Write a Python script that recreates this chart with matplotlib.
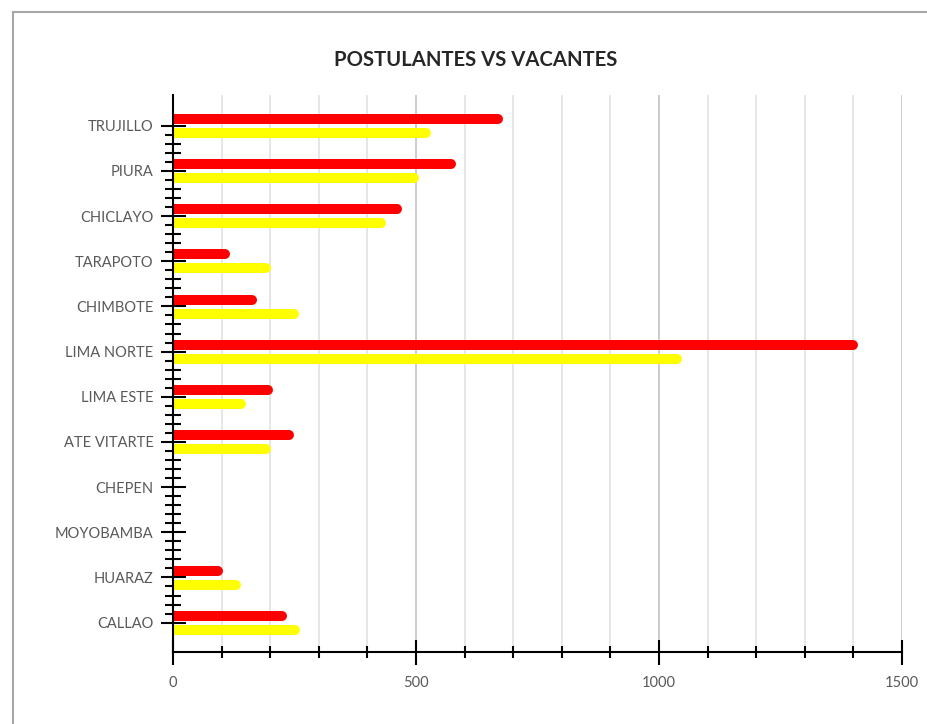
import matplotlib
matplotlib.use("Agg")
import matplotlib.pyplot as plt
from matplotlib.lines import Line2D
from matplotlib.ticker import MultipleLocator, FixedLocator

# datos (de abajo hacia arriba)
sedes = ["CALLAO", "HUARAZ", "MOYOBAMBA", "CHEPEN", "ATE VITARTE", "LIMA ESTE",
         "LIMA NORTE", "CHIMBOTE", "TARAPOTO", "CHICLAYO", "PIURA", "TRUJILLO"]
postulantes = [234, 102, 0, 0, 250, 205, 1409, 172, 118, 472, 583, 680]
vacantes = [262, 139, 0, 0, 201, 151, 1048, 260, 201, 439, 507, 530]

plt.rcParams['font.family'] = ['Lato', 'DejaVu Sans']

W, H = 927, 724
fig = plt.figure(figsize=(W / 100, H / 100), dpi=100)
ax = fig.add_axes([173 / W, (H - 652) / H, 729 / W, 557 / H])

ax.set_xlim(0, 1500)
ax.set_ylim(-0.65, 11.68)

# gridlines
for x in range(100, 1501, 100):
    col = '#c8c8c8' if x % 500 == 0 else '#e4e4e4'
    ax.axvline(x, color=col, lw=1.3, zorder=0)

# bar thickness / rounded ends
lw = 7.2
px_per_unit = ax.transData.transform((1, 0))[0] - ax.transData.transform((0, 0))[0]
cap = (lw / 72 * 100 / 2) / px_per_unit

y = list(range(len(sedes)))
for vals, off, color in [(postulantes, 0.15, '#ff0000'), (vacantes, -0.16, '#ffff00')]:
    for yi, v in zip(y, vals):
        if v <= 0:
            continue
        lc = ax.hlines(yi + off, 0, v - cap, colors=color, lw=lw, zorder=2)
        lc.set_capstyle('round')

# axes
for s in ['top', 'right']:
    ax.spines[s].set_visible(False)
for s in ['left', 'bottom']:
    ax.spines[s].set_color('black')
    ax.spines[s].set_linewidth(1.5)
    ax.spines[s].set_zorder(3)

ax.set_yticks(y)
ax.set_yticklabels(sedes)
minor_y = [i + k / 5 for i in y[:-1] for k in range(1, 5)]
ax.yaxis.set_minor_locator(FixedLocator(minor_y))
ax.xaxis.set_major_locator(MultipleLocator(500))
ax.xaxis.set_minor_locator(MultipleLocator(100))

ax.tick_params(axis='y', which='major', direction='inout', length=18, width=1.5,
               color='black', labelsize=10.5, labelcolor='#595959', pad=5)
ax.tick_params(axis='y', which='minor', direction='inout', length=11, width=1.5, color='black')
ax.tick_params(axis='x', which='major', direction='inout', length=18, width=1.5,
               color='black', labelsize=10.5, labelcolor='#595959', pad=8)
ax.tick_params(axis='x', which='minor', direction='inout', length=9, width=1.5, color='black')

fig.text(476 / W, 1 - 60 / H, "POSTULANTES VS VACANTES", ha='center', va='center',
         fontsize=14.6, fontweight='bold', color='#262626')

# borde del area del grafico
fig.add_artist(Line2D([13 / W, 13 / W], [0, 1 - 12 / H], color='#a6a6a6', lw=1.5))
fig.add_artist(Line2D([13 / W, 1], [1 - 12 / H, 1 - 12 / H], color='#a6a6a6', lw=1.5))

fig.savefig("out.png", dpi=100)
